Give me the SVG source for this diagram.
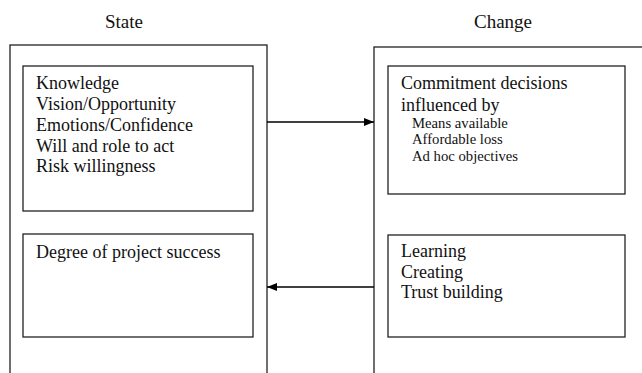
<svg xmlns="http://www.w3.org/2000/svg" width="642" height="373" viewBox="0 0 642 373">
  <defs>
    <marker id="arrow" markerWidth="10" markerHeight="8" refX="10" refY="4" orient="auto" markerUnits="userSpaceOnUse">
      <path d="M0,0 L10,4 L0,8 Z" fill="#000"/>
    </marker>
  </defs>
  <style>
    .frame { fill: #fff; stroke: #222; stroke-width: 1.3; }
    .box { fill: #fff; stroke: #222; stroke-width: 1.3; }
    .title { font-family: "Liberation Serif", "Times New Roman", serif; font-size: 19px; fill: #111; text-anchor: middle; }
    .txt { font-family: "Liberation Serif", "Times New Roman", serif; font-size: 18px; fill: #111; }
    .small { font-family: "Liberation Serif", "Times New Roman", serif; font-size: 14.7px; fill: #111; }
    .conn { stroke: #000; stroke-width: 1.5; fill: none; }
  </style>
  <rect width="642" height="373" fill="#fff"/>

  <g id="state">
    <text class="title" x="124" y="28">State</text>
    <rect class="frame" x="10" y="45" width="257" height="340"/>
  </g>
  <g id="state-factors">
    <rect class="box" x="23" y="66" width="230" height="145"/>
    <text class="txt" x="36" y="89">Knowledge</text>
    <text class="txt" x="36" y="110">Vision/Opportunity</text>
    <text class="txt" x="36" y="131">Emotions/Confidence</text>
    <text class="txt" x="36" y="152">Will and role to act</text>
    <text class="txt" x="36" y="172">Risk willingness</text>
  </g>
  <g id="state-success">
    <rect class="box" x="23" y="234" width="230" height="103"/>
    <text class="txt" x="36" y="258">Degree of project success</text>
  </g>

  <g id="change">
    <text class="title" x="503" y="28">Change</text>
    <rect class="frame" x="374" y="47" width="290" height="340"/>
  </g>
  <g id="change-decisions">
    <rect class="box" x="388" y="66" width="237" height="128"/>
    <text class="txt" x="401" y="89">Commitment decisions</text>
    <text class="txt" x="401" y="111">influenced by</text>
    <text class="small" x="412" y="128">Means available</text>
    <text class="small" x="412" y="144">Affordable loss</text>
    <text class="small" x="412" y="161">Ad hoc objectives</text>
  </g>
  <g id="change-activities">
    <rect class="box" x="388" y="235" width="237" height="102"/>
    <text class="txt" x="401" y="257">Learning</text>
    <text class="txt" x="401" y="278">Creating</text>
    <text class="txt" x="401" y="298">Trust building</text>
  </g>

  <g id="connectors">
    <line class="conn" x1="267" y1="122" x2="374" y2="122" marker-end="url(#arrow)"/>
    <line class="conn" x1="374" y1="287" x2="267" y2="287" marker-end="url(#arrow)"/>
  </g>
</svg>
